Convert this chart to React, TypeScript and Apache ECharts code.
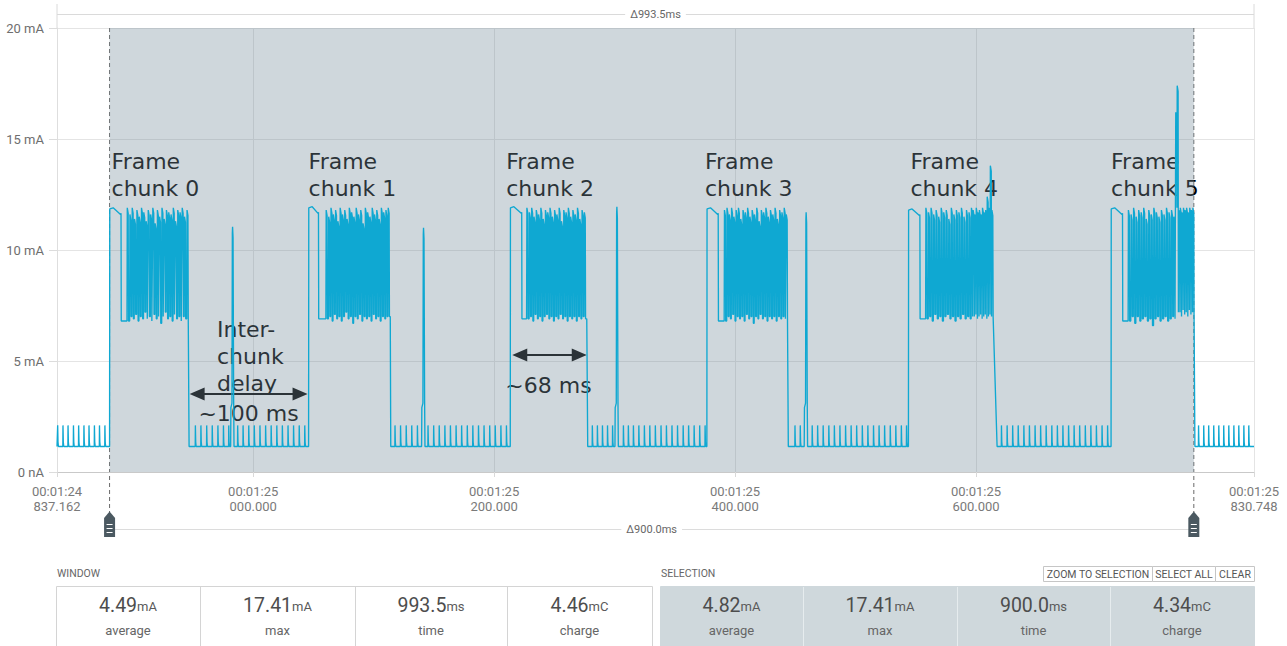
import React, { useEffect, useRef } from 'react';
import * as echarts from 'echarts';

// Time axis: milliseconds past 00:01:24.000
const windowStart = 837.162;
const windowEnd = 1830.748;
const selectionStart = 880.8;
const selectionEnd = 1780.8;

const timeTicks = [837.162, 1000, 1200, 1400, 1600, 1830.748];
const timeTickLabels = [
  '00:01:24\n837.162',
  '00:01:25\n000.000',
  '00:01:25\n200.000',
  '00:01:25\n400.000',
  '00:01:25\n600.000',
  '00:01:25\n830.748',
];
const currentTicks = [0, 5, 10, 15, 20];
const currentTickLabels = ['0 nA', '5 mA', '10 mA', '15 mA', '20 mA'];

// Idle current between transmissions (mA) and its periodic wake-up blips
const idleLevel = 1.15;
const idlePeak = 2.1;
const idleSpikeTimes = [
  // before chunk 0
  837.6, 842.0, 846.2, 850.7, 855.0, 859.4, 863.6, 868.1, 872.3, 876.8,
  // between chunks 0 and 1
  951.9, 956.5, 961.3, 965.9, 970.6, 975.2, 979.6, 987.0, 991.5, 996.2, 1000.8, 1005.5,
  1010.2, 1014.8, 1019.5, 1024.1, 1028.8, 1033.4, 1038.1, 1042.7,
  // between chunks 1 and 2
  1117.6, 1122.2, 1126.9, 1131.5, 1136.2, 1145.0, 1149.7, 1154.3, 1159.0, 1163.6, 1168.3,
  1172.9, 1177.6, 1182.2, 1186.9, 1191.5, 1196.2, 1200.8, 1205.5, 1210.1,
  // between chunks 2 and 3
  1281.4, 1285.6, 1289.8, 1294.0, 1298.2, 1307.2, 1311.3, 1315.5, 1320.0, 1324.6, 1329.1,
  1333.7, 1338.4, 1342.9, 1347.5, 1352.1, 1356.8, 1361.3, 1365.9, 1370.5, 1375.0,
  // between chunks 3 and 4
  1449.6, 1454.0, 1463.9, 1468.4, 1473.0, 1477.7, 1482.3, 1486.9, 1491.6, 1496.2, 1500.8,
  1505.5, 1510.1, 1514.8, 1519.4, 1524.0, 1528.7, 1533.3, 1537.9, 1542.2,
  // between chunks 4 and 5
  1621.0, 1625.7, 1630.3, 1634.9, 1639.6, 1644.2, 1648.9, 1653.5, 1658.1, 1662.8, 1667.4,
  1672.0, 1676.7, 1681.3, 1685.9, 1690.6, 1695.2, 1699.8, 1704.5, 1709.1,
  // after chunk 5
  1784.6, 1788.9, 1793.0, 1797.2, 1801.4, 1805.5, 1809.7, 1813.9, 1818.0, 1822.2, 1826.3,
];

// Single tall radio wake-ups inside the idle gaps: [time ms, peak mA]
const wakeSpikes = [
  [982.9, 11.05],
  [1141.4, 11.0],
  [1301.9, 11.95],
  [1459.0, 11.7],
];

// Frame chunks: rise, end of the flat top, end of the packet burst (ms)
const chunkStart = [880.8, 1046.0, 1213.4, 1376.6, 1543.9, 1712.1];
const plateauEnd = [890.5, 1054.4, 1223.1, 1386.2, 1553.6, 1721.8];
const burstEnd = [946.4, 1113.8, 1276.9, 1443.8, 1614.2, 1781.3];
const plateauLevel = [11.85, 11.9, 11.9, 11.85, 11.8, 11.85];
const fallTime = [0.4, 0.4, 0.8, 0.4, 3.3, 0.4];

// Packet bursts: [ms after the flat top, peak mA, floor mA after the packet]
const burst0 = [
  [5.0, 11.9, 6.8], [7.2, 11.6, 7.0], [9.1, 11.9, 6.9], [11.0, 11.4, 7.1], [13.0, 11.8, 6.8],
  [14.9, 11.5, 7.0], [16.8, 11.9, 6.9], [18.7, 11.7, 7.2], [20.6, 11.3, 6.9], [22.4, 11.8, 7.0],
  [24.4, 11.6, 6.8], [26.2, 11.9, 7.1], [28.1, 11.2, 6.9], [30.0, 11.8, 7.0], [31.8, 11.5, 6.7],
  [33.8, 11.9, 7.0], [35.6, 11.4, 7.2], [37.5, 11.8, 6.9], [39.4, 11.7, 7.0], [41.3, 11.6, 6.8],
  [43.2, 11.9, 7.1], [45.0, 11.3, 6.9], [46.9, 11.8, 7.0], [48.8, 11.7, 6.8], [50.6, 11.9, 7.0],
  [52.5, 11.5, 6.9], [54.6, 11.8, 7.0],
];
const burst1 = [
  [6.2, 11.8, 6.9], [8.3, 11.5, 7.0], [10.2, 11.9, 6.8], [12.1, 11.6, 7.1], [14.0, 11.8, 6.9],
  [15.9, 11.3, 7.0], [17.8, 11.9, 6.8], [19.7, 11.6, 7.0], [21.6, 11.8, 7.2], [23.5, 11.4, 6.9],
  [25.4, 11.9, 7.0], [27.3, 11.7, 6.7], [29.2, 11.5, 7.0], [31.1, 11.9, 6.9], [33.0, 11.6, 7.1],
  [34.9, 11.8, 6.8], [36.8, 11.2, 7.0], [38.7, 11.9, 6.9], [40.6, 11.7, 7.0], [42.5, 11.5, 6.8],
  [44.4, 11.9, 7.1], [46.3, 11.6, 6.9], [48.2, 11.8, 7.0], [50.1, 11.4, 6.8], [52.0, 11.9, 7.0],
  [53.9, 11.7, 6.9], [55.8, 11.8, 7.0], [57.7, 11.9, 7.0],
];
const burst2 = [
  [4.1, 11.9, 6.9], [6.2, 11.7, 7.0], [8.1, 11.9, 6.8], [10.0, 11.5, 7.1], [11.9, 11.8, 6.9],
  [13.8, 11.6, 7.0], [15.7, 11.9, 6.8], [17.6, 11.4, 7.0], [19.5, 11.8, 7.1], [21.4, 11.7, 6.9],
  [23.3, 11.9, 7.0], [25.2, 11.5, 6.8], [27.1, 11.8, 7.0], [29.0, 11.6, 6.9], [30.9, 11.9, 7.1],
  [32.8, 11.3, 6.9], [34.7, 11.8, 7.0], [36.6, 11.7, 6.8], [38.5, 11.9, 7.0], [40.4, 11.5, 6.9],
  [42.3, 11.8, 7.0], [44.2, 11.6, 6.8], [46.1, 11.9, 7.0], [48.0, 11.4, 6.9], [49.9, 11.8, 7.0],
  [51.8, 11.7, 6.9],
];
const burst3 = [
  [5.0, 11.8, 6.8], [7.1, 11.9, 7.0], [9.0, 11.6, 6.9], [10.9, 11.9, 7.1], [12.8, 11.5, 6.8],
  [14.7, 11.8, 7.0], [16.6, 11.9, 6.9], [18.5, 11.4, 7.0], [20.4, 11.8, 6.8], [22.3, 11.7, 7.1],
  [24.2, 11.9, 6.9], [26.1, 11.5, 7.0], [28.0, 11.8, 6.7], [29.9, 11.6, 7.0], [31.8, 11.9, 6.9],
  [33.7, 11.3, 7.1], [35.6, 11.8, 6.9], [37.5, 11.7, 7.0], [39.4, 11.9, 6.8], [41.3, 11.5, 7.0],
  [43.2, 11.8, 6.9], [45.1, 11.6, 7.0], [47.0, 11.9, 6.8], [48.9, 11.4, 7.0], [50.8, 11.8, 6.9],
  [52.7, 11.7, 7.0], [54.6, 11.9, 6.9], [56.3, 11.6, 7.0],
];
const burst4 = [
  [4.8, 11.9, 6.9], [7.0, 11.7, 7.0], [9.1, 11.9, 6.8], [11.2, 11.6, 7.1], [13.3, 11.8, 6.9],
  [15.4, 11.5, 7.0], [17.5, 11.9, 6.8], [19.6, 11.7, 7.0], [21.7, 11.8, 7.1], [23.8, 11.4, 6.9],
  [25.9, 11.9, 7.0], [28.0, 11.6, 6.8], [30.1, 11.8, 7.0], [32.2, 11.7, 6.9], [34.3, 11.9, 7.1],
  [36.4, 11.5, 6.9], [38.5, 11.8, 7.0], [40.6, 11.7, 6.9], [42.6, 11.9, 7.0],
  [44.0, 11.8, 7.0], [45.3, 11.6, 7.1], [46.6, 11.9, 6.9], [47.9, 11.7, 7.0], [49.2, 11.8, 7.1],
  [50.5, 11.6, 6.9], [51.8, 11.9, 7.0], [53.1, 11.7, 7.1], [54.4, 11.8, 6.9], [55.7, 12.4, 7.0],
  [57.0, 11.9, 7.1], [58.3, 13.8, 7.0], [59.6, 11.8, 7.0],
];
const burst5 = [
  [4.7, 11.8, 6.8], [6.9, 11.6, 7.0], [9.0, 11.9, 6.7], [11.1, 11.5, 7.0], [13.2, 11.8, 6.8],
  [15.3, 11.7, 6.9], [17.4, 11.9, 7.0], [19.5, 11.4, 6.8], [21.6, 11.8, 6.9], [23.7, 11.6, 6.6],
  [25.8, 11.9, 6.9], [27.9, 11.7, 7.0], [30.0, 11.5, 6.8], [32.1, 11.8, 6.9], [34.2, 11.6, 7.0],
  [36.3, 11.9, 6.8], [38.4, 11.7, 6.9], [40.5, 11.8, 7.0], [42.4, 11.5, 6.9],
  [44.0, 16.2, 11.9], [45.2, 17.4, 7.2],
  [46.5, 11.8, 7.2], [47.8, 11.9, 7.0], [49.1, 11.7, 7.3], [50.4, 11.9, 7.1], [51.7, 11.8, 7.2],
  [53.0, 11.9, 7.0], [54.3, 11.7, 7.3], [55.6, 11.9, 7.1], [56.9, 11.8, 7.2], [58.2, 11.9, 7.0],
];
const bursts = [burst0, burst1, burst2, burst3, burst4, burst5];

// Summary panels
const windowStats = [
  ['4.49', 'mA', 'average'],
  ['17.41', 'mA', 'max'],
  ['993.5', 'ms', 'time'],
  ['4.46', 'mC', 'charge'],
];
const selectionStats = [
  ['4.82', 'mA', 'average'],
  ['17.41', 'mA', 'max'],
  ['900.0', 'ms', 'time'],
  ['4.34', 'mC', 'charge'],
];
const windowSpan = 'Δ993.5ms';
const selectionSpan = 'Δ900.0ms';

type Pt = [number, number];

function idleStretch(pts: Pt[], from: number, to: number) {
  const events: { t: number; peak: number; wake: boolean }[] = [];
  idleSpikeTimes.forEach((t) => {
    if (t > from && t < to) events.push({ t, peak: idlePeak, wake: false });
  });
  wakeSpikes.forEach(([t, p]) => {
    if (t > from && t < to) events.push({ t, peak: p, wake: true });
  });
  events.sort((a, b) => a.t - b.t);
  events.forEach((e) => {
    if (e.wake) {
      pts.push(
        [e.t - 1.6, idleLevel],
        [e.t - 1.4, 2.9],
        [e.t - 0.5, 3.1],
        [e.t - 0.2, e.peak - 0.3],
        [e.t, e.peak],
        [e.t + 0.4, e.peak - 0.5],
        [e.t + 0.9, 3.2],
        [e.t + 1.2, idleLevel],
      );
    } else {
      pts.push([e.t, idleLevel], [e.t + 0.12, e.peak], [e.t + 0.4, 1.35], [e.t + 0.75, idleLevel]);
    }
  });
  pts.push([to, idleLevel]);
}

function buildTrace(): Pt[] {
  const pts: Pt[] = [[windowStart, idleLevel]];
  let cursor = windowStart;
  chunkStart.forEach((cs, i) => {
    idleStretch(pts, cursor, cs);
    const pe = plateauEnd[i];
    const lvl = plateauLevel[i];
    const b = bursts[i];
    pts.push([cs + 0.15, lvl], [cs + 3, lvl + 0.05], [pe - 0.6, lvl - 0.25], [pe - 0.2, lvl - 0.2]);
    let floor = b[0][2];
    pts.push([pe, floor]);
    b.forEach(([off, peak, fl]) => {
      const t = pe + off;
      pts.push([t - 0.25, floor], [t, peak], [t + 0.75, peak - 0.25], [t + 1.0, fl]);
      floor = fl;
    });
    pts.push([burstEnd[i], floor], [burstEnd[i] + fallTime[i], idleLevel]);
    cursor = burstEnd[i] + fallTime[i];
  });
  idleStretch(pts, cursor, windowEnd);
  return pts;
}

const UI_FONT = 'Roboto, "Noto Sans", sans-serif';
const NOTE_FONT = '"DejaVu Sans", sans-serif';
const TRACE_COLOR = '#0fa8d2';

function buildOption() {
  return {
    animation: false,
    textStyle: { fontFamily: UI_FONT },
    grid: { left: 57, right: 33, top: 28, bottom: 174 },
    xAxis: {
      type: 'value',
      min: windowStart,
      max: windowEnd,
      axisLine: { show: true, lineStyle: { color: '#c9c9c9' } },
      axisTick: { show: true, customValues: timeTicks, length: 5, lineStyle: { color: '#d9d9d9' } },
      axisLabel: {
        customValues: timeTicks,
        color: '#7a7a7a',
        fontSize: 13,
        lineHeight: 15,
        margin: 12,
        fontFamily: UI_FONT,
        formatter: (v: number) => {
          const i = timeTicks.findIndex((t) => Math.abs(t - v) < 1e-6);
          return i >= 0 ? timeTickLabels[i] : '';
        },
      },
      splitLine: { show: true, lineStyle: { color: '#e4e4e4' } },
    },
    yAxis: {
      type: 'value',
      min: 0,
      max: 20,
      interval: 5,
      axisLine: { show: true, lineStyle: { color: '#dedede' } },
      axisTick: { show: true, length: 8, lineStyle: { color: '#dcdcdc' } },
      axisLabel: {
        color: '#6e6e6e',
        fontSize: 13,
        margin: 13,
        fontFamily: UI_FONT,
        formatter: (v: number) => {
          const i = currentTicks.indexOf(v);
          return i >= 0 ? currentTickLabels[i] : '';
        },
      },
      splitLine: { show: true, lineStyle: { color: '#e4e4e4' } },
    },
    series: [
      {
        // selected range shading, kept beneath the trace
        type: 'line',
        data: [],
        z: 1,
        silent: true,
        markArea: {
          silent: true,
          itemStyle: { color: 'rgba(120,144,156,0.355)' },
          data: [[{ xAxis: selectionStart }, { xAxis: selectionEnd }]],
        },
      },
      {
        type: 'line',
        z: 3,
        data: buildTrace(),
        showSymbol: false,
        symbol: 'none',
        silent: true,
        lineStyle: { color: TRACE_COLOR, width: 1.35 },
      },
    ],
  };
}

function handle(x: number) {
  return [
    {
      type: 'polygon',
      shape: { points: [[x - 5.5, 537], [x - 5.5, 518], [x, 511.5], [x + 5.5, 518], [x + 5.5, 537]] },
      style: { fill: '#4b5961' },
    },
    ...[524.5, 528.5, 532.5].map((y) => ({
      type: 'line',
      shape: { x1: x - 3, y1: y, x2: x + 3, y2: y },
      style: { stroke: '#ffffff', lineWidth: 1 },
    })),
  ];
}

function arrow(xa: number, xb: number, y: number) {
  return [
    { type: 'line', shape: { x1: xa + 8, y1: y, x2: xb - 8, y2: y }, style: { stroke: '#000', lineWidth: 2 } },
    { type: 'polygon', shape: { points: [[xa, y], [xa + 15, y - 6.5], [xa + 15, y + 6.5]] }, style: { fill: '#000' } },
    { type: 'polygon', shape: { points: [[xb, y], [xb - 15, y - 6.5], [xb - 15, y + 6.5]] }, style: { fill: '#000' } },
  ];
}

function note(x: number, y: number, text: string, align = 'left') {
  return {
    type: 'text',
    x,
    y,
    style: {
      text,
      fontFamily: NOTE_FONT,
      fontSize: 22,
      lineHeight: 27,
      fill: '#000',
      align,
      verticalAlign: 'top',
    },
  };
}

function panel(
  x0: number,
  x1: number,
  dividers: number[],
  title: string,
  stats: string[][],
  fill: string,
  border: string,
  sep: string,
) {
  const els: any[] = [
    {
      type: 'text',
      x: x0 + 1,
      y: 573,
      style: { text: title, fontSize: 10.5, fill: '#666', fontFamily: UI_FONT, verticalAlign: 'middle' },
    },
    {
      type: 'rect',
      shape: { x: x0 + 0.5, y: 586.5, width: x1 - x0, height: 80 },
      style: { fill, stroke: border, lineWidth: 1 },
    },
  ];
  dividers.forEach((d) =>
    els.push({ type: 'line', shape: { x1: d + 0.5, y1: 587, x2: d + 0.5, y2: 670 }, style: { stroke: sep, lineWidth: 1 } }),
  );
  const edges = [x0, ...dividers, x1];
  stats.forEach(([value, unit, label], i) => {
    const cx = (edges[i] + edges[i + 1]) / 2;
    els.push({
      type: 'text',
      x: cx,
      y: 615,
      style: {
        text: `{v|${value}}{u|${unit}}`,
        align: 'center',
        verticalAlign: 'bottom',
        rich: {
          v: { fontSize: 19.5, fill: '#4d4d4d', fontFamily: UI_FONT, verticalAlign: 'bottom', lineHeight: 22 },
          u: { fontSize: 13, fill: '#5a5a5a', fontFamily: UI_FONT, verticalAlign: 'bottom', lineHeight: 22, padding: [0, 0, 2, 0] },
        },
      },
    });
    els.push({
      type: 'text',
      x: cx,
      y: 630,
      style: { text: label, fontSize: 13, fill: '#666', fontFamily: UI_FONT, align: 'center', verticalAlign: 'middle' },
    });
  });
  return els;
}

function button(x0: number, x1: number, text: string) {
  return [
    { type: 'rect', shape: { x: x0 + 0.5, y: 566.5, width: x1 - x0, height: 15 }, style: { fill: '#fff', stroke: '#c6c6c6' } },
    {
      type: 'text',
      x: (x0 + x1) / 2 + 0.5,
      y: 574.5,
      style: { text, fontSize: 10.5, fill: '#555', fontFamily: UI_FONT, align: 'center', verticalAlign: 'middle' },
    },
  ];
}

// small horizontal nudges for the chunk captions, px
const captionNudge = [2, 0, -4, -2, 2, 0];

function buildGraphics(px: (t: number, v: number) => number[]) {
  const [xw0, yTop] = px(windowStart, 20);
  const [xw1] = px(windowEnd, 20);
  const [xs0] = px(selectionStart, 20);
  const [xs1] = px(selectionEnd, 20);
  const spanY = 14.5;
  const selY = 529.5;

  const els: any[] = [
    // window span on top
    { type: 'line', shape: { x1: xw0, y1: spanY, x2: xw1, y2: spanY }, style: { stroke: '#dadada' } },
    { type: 'line', shape: { x1: xw0, y1: 4, x2: xw0, y2: yTop }, style: { stroke: '#dadada' } },
    { type: 'line', shape: { x1: xw1, y1: 4, x2: xw1, y2: yTop }, style: { stroke: '#dadada' } },
    {
      type: 'text',
      x: (xw0 + xw1) / 2,
      y: spanY,
      style: {
        text: windowSpan,
        fontSize: 11,
        fill: '#666',
        fontFamily: UI_FONT,
        align: 'center',
        verticalAlign: 'middle',
        backgroundColor: '#fff',
        padding: [1, 5],
      },
    },
    // selection span under the axis
    { type: 'line', shape: { x1: xs0, y1: selY, x2: xs1, y2: selY }, style: { stroke: '#dcdcdc' } },
    {
      type: 'text',
      x: (xs0 + xs1) / 2,
      y: selY,
      style: {
        text: selectionSpan,
        fontSize: 11,
        fill: '#666',
        fontFamily: UI_FONT,
        align: 'center',
        verticalAlign: 'middle',
        backgroundColor: '#fff',
        padding: [1, 5],
      },
    },
    // selection cursors
    { type: 'line', shape: { x1: xs0, y1: yTop, x2: xs0, y2: 512 }, style: { stroke: '#6a6a6a', lineDash: [4, 3], lineWidth: 1 } },
    { type: 'line', shape: { x1: xs1, y1: yTop, x2: xs1, y2: 512 }, style: { stroke: '#6a6a6a', lineDash: [4, 3], lineWidth: 1 } },
    ...handle(xs0),
    ...handle(xs1),
  ];

  // chunk annotations
  chunkStart.forEach((cs, i) => {
    const [x] = px(cs, 0);
    els.push(note(x + captionNudge[i], 148, `Frame\nchunk ${i}`));
  });

  const [gapA] = px(burstEnd[0], 0);
  const [gapB] = px(chunkStart[1], 0);
  els.push(note(217, 316, 'Inter-\nchunk\ndelay'));
  els.push(...arrow(gapA + 1, gapB - 1, 394));
  els.push(note((gapA + gapB) / 2, 400, '~100 ms', 'center'));

  const [burA] = px(chunkStart[2], 0);
  const [burB] = px(burstEnd[2], 0);
  els.push(...arrow(burA + 2, burB, 355));
  els.push(note((burA + burB) / 2, 372, '~68 ms', 'center'));

  // summary panels
  els.push(...panel(56, 652, [200, 355, 507], 'WINDOW', windowStats, '#ffffff', '#d4d4d4', '#d4d4d4'));
  els.push(...panel(660, 1254, [803, 957, 1110], 'SELECTION', selectionStats, '#cfd8dc', '#cfd8dc', '#e6ecee'));
  els.push(...button(1043, 1152, 'ZOOM TO SELECTION'));
  els.push(...button(1152, 1215, 'SELECT ALL'));
  els.push(...button(1215, 1254, 'CLEAR'));

  return els;
}

export default function App() {
  const ref = useRef<HTMLDivElement>(null);
  useEffect(() => {
    if (!ref.current) return;
    const chart = echarts.init(ref.current, null, { renderer: 'svg' });
    chart.setOption(buildOption() as any);
    const px = (t: number, v: number) => chart.convertToPixel({ seriesIndex: 1 }, [t, v]) as number[];
    chart.setOption({ graphic: buildGraphics(px) } as any);
    return () => chart.dispose();
  }, []);
  return (
    <div
      ref={ref}
      style={{ position: 'fixed', left: 0, top: 0, width: 1287, height: 646, background: '#ffffff' }}
    />
  );
}
